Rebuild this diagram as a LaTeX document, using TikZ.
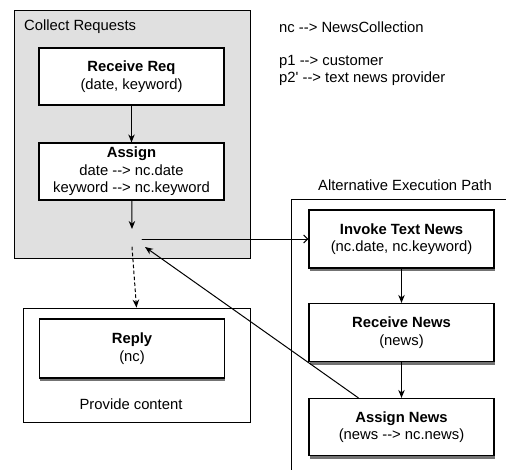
\documentclass[tikz,border=0pt]{standalone}
\usepackage{fontspec}
\setmainfont{Liberation Sans}[Ligatures=TeXOff]
\usetikzlibrary{arrows.meta,shadows}

\definecolor{groupgray}{RGB}{224,224,224}

\begin{document}
\begin{tikzpicture}[>={Stealth[length=8bp,width=6.5bp]},x=1bp,y=-1bp,line cap=round,
			font=\fontsize{14.8bp}{17.5bp}\selectfont,
			task/.style={draw,fill=white,line width=1.2bp,minimum width=185bp,minimum height=57bp,align=center,inner sep=2bp},
			shadowed/.style={drop shadow={shadow xshift=0.5bp,shadow yshift=-3bp,opacity=0.55,fill=black}},
			group/.style={draw,line width=0.9bp,inner sep=0pt},
			flow/.style={line width=1bp,->}]
			\useasboundingbox (0,0) rectangle (506,470);
			% groups
			\node[group,fill=groupgray,minimum width=236bp,minimum height=248bp] (collect) at (132,134) {};
			\node[anchor=west,inner sep=0pt] (collectlbl) at (24,27) {Collect Requests};
			\node[group,minimum width=227bp,minimum height=114bp] (provide) at (136.5,365) {};
			\node[inner sep=0pt] (providelbl) at (131,404) {Provide content};
			\draw[line width=0.9bp] (510,199) -| (291,474);
			\node[inner sep=0pt] (altlbl) at (405,185) {Alternative Execution Path};
			% legend
			\node[anchor=west,inner sep=0pt] (leg1) at (279,27) {nc --> NewsCollection};
			\node[anchor=west,inner sep=0pt] (leg2) at (279,62) {p1 --> customer};
			\node[anchor=west,inner sep=0pt] (leg3) at (279,79) {p2' --> text news provider};
			% tasks
			\node[task] (recvreq) at (131.5,76.5) {\textbf{Receive Req}\\(date, keyword)};
			\node[task] (assign) at (131.5,171.5) {\textbf{Assign}\\date --> nc.date\\keyword --> nc.keyword};
			\node[task,shadowed,minimum height=59bp] (reply) at (132,348.5) {\textbf{Reply}\\(nc)};
			\node[task,shadowed,minimum height=58bp] (invoke) at (401.5,239) {\textbf{Invoke Text News}\\(nc.date, nc.keyword)};
			\node[task,shadowed,minimum height=58bp] (recvnews) at (401.5,332.5) {\textbf{Receive News}\\(news)};
			\node[task,shadowed] (assignnews) at (401.5,427) {\textbf{Assign News}\\(news --> nc.news)};
			% fork points
			\coordinate (forkin) at (132,229);
			\coordinate (forkout) at (132,247);
			\coordinate (forkright) at (142,239);
			\coordinate (forkback) at (145,247);
			% connectors
			\draw[flow] (recvreq) -- (assign);
			\draw[flow] (assign) -- (forkin);
			\draw[flow,dashed] (forkout) -- (provide.north);
			\draw[line width=1bp,-{Straight Barb[length=4bp,width=8bp]}] (forkright) -- (invoke.west);
			\draw[flow] (invoke) -- (recvnews);
			\draw[flow] (recvnews) -- (assignnews);
			\draw[flow] ([xshift=50bp]assignnews.north west) -- (forkback);
		\end{tikzpicture}
\end{document}
